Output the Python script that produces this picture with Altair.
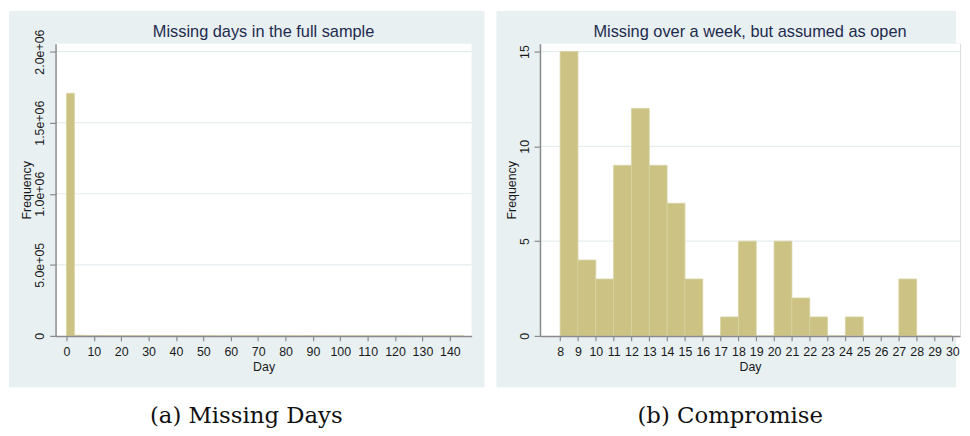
import altair as alt
import pandas as pd

# ---------------- data ----------------
# (a) Missing days in the full sample: histogram bins (width 2.9 days)
left_bin_start = [round(i * 2.9, 2) for i in range(50)]
left_counts = [1707000, 5200, 3600, 2900, 2500, 2200, 2000, 1800, 1700, 1600,
               1500, 1400, 1300, 1250, 1200, 1150, 1100, 1050, 1000, 0,
               950, 900, 880, 860, 840, 820, 800, 780, 760, 740,
               720, 700, 690, 680, 670, 660, 650, 640, 630, 620,
               610, 600, 590, 580, 0, 560, 550, 0, 0, 540]

# (b) Compromise: missing over a week, but assumed as open
right_days = [8, 9, 10, 11, 12, 13, 14, 15, 16, 17, 18, 19, 20, 21, 22, 23, 24, 25, 26, 27, 28, 29]
right_counts = [15, 4, 3, 9, 12, 9, 7, 3, 0, 1, 5, 0, 5, 2, 1, 0, 1, 0, 0, 3, 0, 0]

left_x_ticks = [0, 10, 20, 30, 40, 50, 60, 70, 80, 90, 100, 110, 120, 130, 140]
right_x_ticks = list(range(8, 31))
left_y_ticks = [0, 500000, 1000000, 1500000, 2000000]
right_y_ticks = [0, 5, 10, 15]

left_title = "Missing days in the full sample"
right_title = "Missing over a week, but assumed as open"
left_caption = "(a) Missing Days"
right_caption = "(b) Compromise"

# ---------------- style ----------------
BG = "#e8f0f2"
GRID = "#e6eef0"
BAR = "#cbc283"
BAR_EDGE = "#d8d2a2"
AXIS_C = "#8a8a8a"
TEXT_C = "#1a1a1a"
TITLE_C = "#1e2b4d"
FONT = "Liberation Sans"

H = 295


def panel(df, x_field, x2_field, x_domain, x_ticks, y_domain, y_ticks, y_label_expr,
          title, caption, w, bg_x, bg_x2, cap_x):
    one = alt.Data(values=[{"k": 1}])
    x_axis = alt.Axis(values=x_ticks, title="Day", grid=False, zindex=1,
                      domainColor=AXIS_C, domainWidth=1.5, tickColor=AXIS_C, tickWidth=1.2,
                      tickSize=5, labelFontSize=12.5, labelColor=TEXT_C, labelPadding=5,
                      labelFont=FONT, titleFont=FONT, titleFontSize=12.5, titleFontWeight="normal",
                      titleColor=TEXT_C, titlePadding=2, labelFlush=False, labelOverlap=False)
    y_axis = alt.Axis(values=y_ticks, title="Frequency", grid=False, zindex=1,
                      domainColor=AXIS_C, domainWidth=1.5, tickColor=AXIS_C, tickWidth=1.2,
                      tickSize=6, labelFontSize=12.5, labelColor=TEXT_C, labelPadding=3,
                      labelAngle=-90, labelAlign="center", labelBaseline="bottom",
                      labelExpr=y_label_expr, labelFont=FONT, titleFont=FONT,
                      titleFontSize=12.5, titleFontWeight="normal", titleColor=TEXT_C,
                      titlePadding=0, labelFlush=False, labelOverlap=False)
    x_scale = alt.Scale(domain=x_domain, nice=False, zero=False)
    y_scale = alt.Scale(domain=y_domain, nice=False, zero=True)

    bg = alt.Chart(one).mark_rect(color=BG).encode(
        x=alt.value(bg_x), x2=alt.value(bg_x2), y=alt.value(-33), y2=alt.value(H + 52))
    plotbg = alt.Chart(one).mark_rect(color="white").encode(
        x=alt.value(0), x2=alt.value(w), y=alt.value(0), y2=alt.value(H))
    grid = alt.Chart(pd.DataFrame({"g": [v for v in y_ticks if v != 0]})).mark_rule(
        color=GRID, strokeWidth=1.2).encode(
        y=alt.Y("g:Q", scale=y_scale, axis=y_axis))
    bars = alt.Chart(df).mark_rect(color=BAR, stroke=BAR_EDGE, strokeWidth=0.8).encode(
        x=alt.X(f"{x_field}:Q", scale=x_scale, axis=x_axis),
        x2=f"{x2_field}:Q",
        y=alt.Y("count:Q", scale=y_scale, axis=y_axis),
        y2=alt.datum(0),
    )
    ttl = alt.Chart(one).mark_text(text=title, font=FONT, fontSize=16.5, color=TITLE_C,
                                   align="center", baseline="alphabetic").encode(
        x=alt.value(w / 2), y=alt.value(-7))
    cap = alt.Chart(one).mark_text(text=caption, font="DejaVu Serif", fontSize=23, color="#111111",
                                   align="center", baseline="alphabetic").encode(
        x=alt.value(cap_x), y=alt.value(H + 88))
    return alt.layer(bg, plotbg, grid, bars, ttl, cap).properties(width=w, height=H)


left_df = pd.DataFrame({"start": left_bin_start, "count": left_counts})
left_df["end"] = left_df["start"] + 2.9
right_df = pd.DataFrame({"day": right_days, "count": right_counts})
right_df["day_end"] = right_df["day"] + 1

left_expr = "datum.value == 0 ? '0' : replace(format(datum.value, '.1e'), 'e+', 'e+0')"
right_expr = "datum.label"

left = panel(left_df, "start", "end", [-3.98, 147.96], left_x_ticks, [0, 2056000], left_y_ticks,
             left_expr, left_title, left_caption, 420, -47, 433, 192.5)
right = panel(right_df, "day", "day_end", [6.87, 30.43], right_x_ticks, [0, 15.42], right_y_ticks,
              right_expr, right_title, right_caption, 424, -44, 420, 192)

chart = alt.hconcat(left, right, spacing=10).properties(
    padding=0, background="white"
).configure_view(strokeWidth=0).configure(font=FONT)

chart.save("out.html", embed_options={"renderer": "svg", "actions": False})
